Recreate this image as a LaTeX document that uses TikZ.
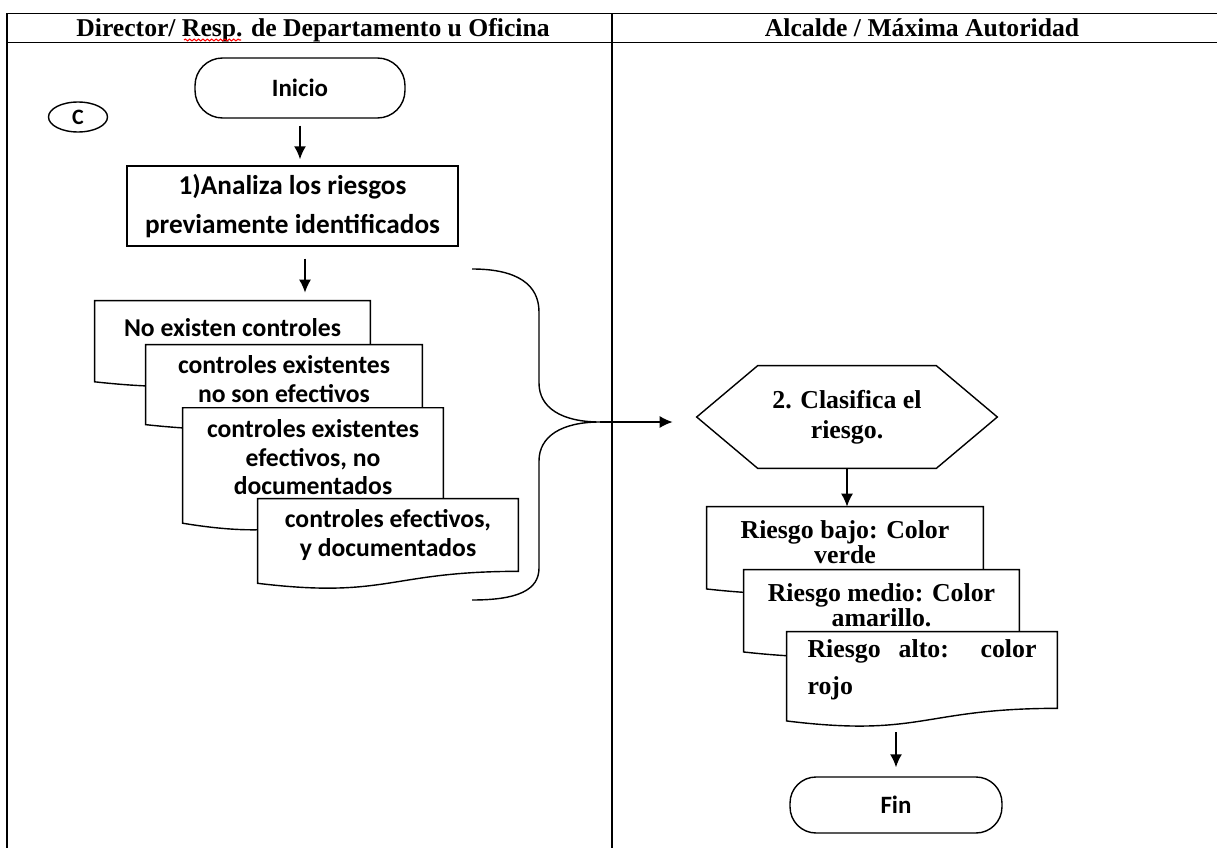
\documentclass[tikz,border=0pt]{standalone}
\usepackage{fontspec}
\setmainfont{Liberation Serif}
\newfontfamily\calibri{Carlito}
\usetikzlibrary{arrows.meta,positioning,calc,backgrounds,shapes.geometric,decorations.pathmorphing}

% outline of a document symbol drawn round a named node (wavy bottom)
\newcommand{\docoutline}[1]{%
  \begin{pgfonlayer}{background}
    \draw[docline] (#1.north west) -- (#1.north east) -- (#1.south east)
      .. controls (#1.south) and ($(#1.north)!1.381!(#1.south)$)
      .. ($(#1.north west)!1.1646!(#1.south west)$) -- cycle;
  \end{pgfonlayer}}

\begin{document}
\begin{tikzpicture}[
  x=0.02cm, y=-0.02cm,
  frame/.style={line width=1.1pt},
  lanetitle/.style={anchor=base, font=\fontsize{14.6}{17}\selectfont\bfseries},
  terminal/.style={draw, line width=0.8pt, rounded corners=0.55cm, inner sep=0pt, font=\calibri\fontsize{14.2}{17}\selectfont\bfseries},
  process/.style={draw, line width=0.8pt, align=center, inner sep=0pt, font=\calibri\fontsize{15.5}{22.7}\selectfont\bfseries},
  doc/.style={inner sep=0pt, align=center, font=\calibri\fontsize{14.6}{16.2}\selectfont\bfseries},
  rdoc/.style={inner sep=0pt, align=center, font=\fontsize{14.7}{14.4}\selectfont\bfseries},
  docline/.style={draw, fill=white, line width=0.8pt},
  shapeline/.style={line width=0.8pt},
  arrow/.style={-{Latex[length=0.26cm,width=0.24cm]}, line width=0.9pt}
]
\useasboundingbox (0,0) rectangle (1217,848);

% swimlane frame
\draw[frame] (7,848) -- (7,13.5) -- (1217,13.5);
\draw[frame] (7,42.5) -- (1217,42.5);
\draw[frame] (612,13.5) -- (612,848);

\node[lanetitle] (hdir) at (313,37) {Director/ Resp. de Departamento u Oficina};
\node[lanetitle] (halc) at (922,37) {Alcalde / Máxima Autoridad};
\draw[red, line width=0.6pt, decorate, decoration={snake, amplitude=0.5pt, segment length=2.5pt}] (184,40) -- (241,40);

% left lane
\node[draw, ellipse, line width=0.8pt, minimum width=1.18cm, minimum height=0.6cm, inner sep=0pt, font=\calibri\fontsize{12.5}{14}\selectfont\bfseries] (conector) at (78,117) {C};
\node[terminal, minimum width=4.2cm, minimum height=1.2cm] (inicio) at (300,88) {Inicio};
\node[process, minimum width=6.62cm, minimum height=1.6cm] (analiza) at (292.5,206) {1)Analiza los riesgos\\previamente identificados};

\node[doc, minimum width=5.5cm, minimum height=1.38cm, text depth=0.34cm] (nocontrol) at (232.5,335.5) {No existen controles};
\docoutline{nocontrol}
\node[doc, minimum width=5.52cm, minimum height=1.36cm] (noefectivo) at (284,379) {controles existentes\\no son efectivos};
\docoutline{noefectivo}
\node[doc, minimum width=5.2cm, minimum height=1.97cm] (nodocumentado) at (313,457.3) {controles existentes\\efectivos, no\\documentados};
\docoutline{nodocumentado}
\node[doc, minimum width=5.2cm, minimum height=1.44cm] (documentado) at (388,535) {controles efectivos,\\y documentados};
\docoutline{documentado}

\coordinate (bracetip) at (600,422);
\draw[shapeline] (472,269) .. controls (518,269) and (539,285) .. (539,312) -- (539,383)
  .. controls (539,408) and (562,422) .. (bracetip)
  .. controls (562,422) and (539,436) .. (539,461) -- (539,568)
  .. controls (539,590) and (518,600) .. (472,600);

% right lane
\node[inner sep=0pt, minimum width=6cm, minimum height=2.04cm, align=center, font=\fontsize{14.7}{17}\selectfont\bfseries] (clasifica) at (847,417) {2. Clasifica el\\riesgo.};
\draw[shapeline] (clasifica.west) -- ([xshift=1.22cm]clasifica.north west) -- ([xshift=-1.22cm]clasifica.north east)
  -- (clasifica.east) -- ([xshift=-1.22cm]clasifica.south east) -- ([xshift=1.22cm]clasifica.south west) -- cycle;

\node[rdoc, minimum width=5.52cm, minimum height=1.4cm] (riesgobajo) at (845,542) {Riesgo bajo: Color\\verde};
\docoutline{riesgobajo}
\node[rdoc, minimum width=5.5cm, minimum height=1.4cm] (riesgomedio) at (881.5,605) {Riesgo medio: Color\\amarillo.};
\docoutline{riesgomedio}
\node[rdoc, minimum width=5.4cm, minimum height=1.52cm, align=left, font=\fontsize{14.7}{21}\selectfont\bfseries] (riesgoalto) at (922,670) {\makebox[4.58cm][s]{Riesgo alto: color}\\rojo};
\docoutline{riesgoalto}

\node[terminal, minimum width=4.24cm, minimum height=1.12cm, rounded corners=0.52cm] (fin) at (896,805) {Fin};

% connectors
\draw[arrow, shorten <=0.14cm, shorten >=0.12cm] (inicio.south) -- (inicio.south |- analiza.north);
\draw[arrow, shorten <=0.24cm, shorten >=0.16cm] ($(analiza.south)+(12.5,0)$) -- ($(analiza.south |- nocontrol.north)+(12.5,0)$);
\draw[arrow, shorten >=0.48cm] (bracetip) -- (bracetip -| clasifica.west);
\draw[arrow] (clasifica.south) -- (clasifica.south |- riesgobajo.north);
\draw[arrow, shorten <=0.48cm, shorten >=0.18cm] (riesgoalto.south -| fin.north) -- (fin.north);
\end{tikzpicture}
\end{document}
